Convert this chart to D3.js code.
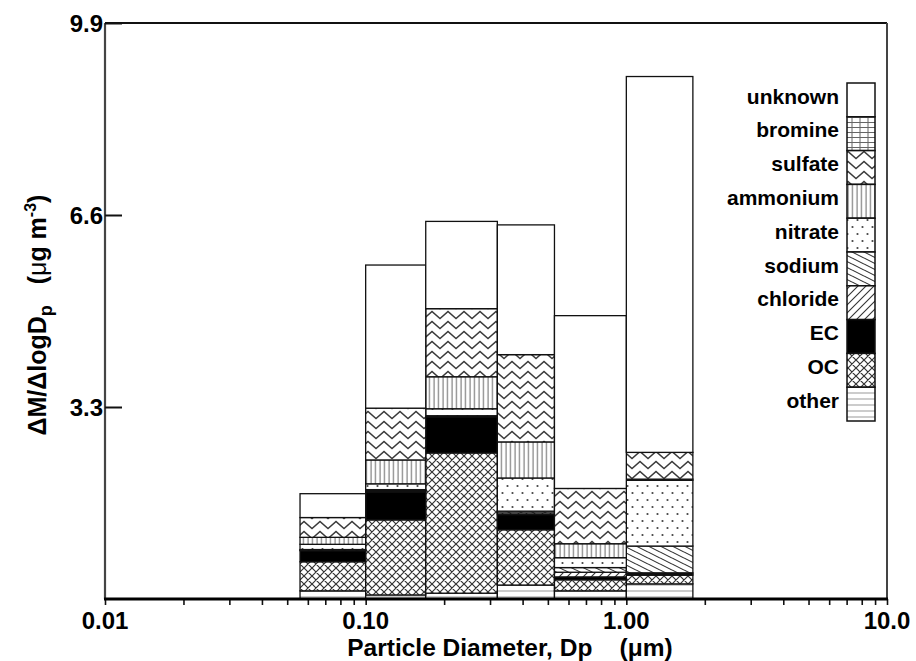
<!DOCTYPE html>
<html>
<head>
<meta charset="utf-8">
<script src="https://cdn.jsdelivr.net/npm/d3@7"></script>
<style>
  html, body { margin: 0; padding: 0; background: #fff; }
  svg { display: block; }
  text { font-family: "Liberation Sans", Arial, Helvetica, sans-serif; font-weight: bold; fill: #000; }
</style>
</head>
<body>
<svg id="chart" width="916" height="661"></svg>
<script>
// MOUDI stage cut points (µm) bounding each size bin
const binEdges = [0.056, 0.1, 0.17, 0.32, 0.53, 1.0, 1.8];

// Species, bottom of the stack first
const species = ["other", "OC", "EC", "chloride", "sodium", "nitrate", "ammonium", "sulfate", "bromine", "unknown"];

// ΔM/ΔlogDp (µg m-3) per bin, one array per species
const other    = [0.14, 0.07, 0.10, 0.24, 0.14, 0.26];
const OC       = [0.50, 1.29, 2.41, 0.95, 0.19, 0.15];
const EC       = [0.19, 0.48, 0.62, 0.26, 0.05, 0.02];
const chloride = [0.01, 0.02, 0.01, 0.03, 0.08, 0.02];
const sodium   = [0.01, 0.02, 0.01, 0.03, 0.08, 0.46];
const nitrate  = [0.09, 0.10, 0.12, 0.57, 0.17, 1.13];
const ammonium = [0.12, 0.41, 0.55, 0.62, 0.24, 0.02];
const sulfate  = [0.34, 0.89, 1.17, 1.50, 0.95, 0.46];
const bromine  = [0.00, 0.00, 0.00, 0.00, 0.00, 0.00];
const unknown  = [0.41, 2.46, 1.50, 2.23, 2.97, 6.46];

// Axis ticks
const yTicks = [3.3, 6.6, 9.9];
const xMajorTicks = [0.01, 0.1, 1, 10];
const xTickLabels = ["0.01", "0.10", "1.00", "10.0"];

const seriesValues = { other, OC, EC, chloride, sodium, nitrate, ammonium, sulfate, bromine, unknown };

const rows = binEdges.slice(0, -1).map((lo, i) => {
  const r = { lo: lo, hi: binEdges[i + 1] };
  species.forEach(s => { r[s] = seriesValues[s][i]; });
  return r;
});

const svg = d3.select("#chart");
const x = d3.scaleLog().domain([0.01, 10]).range([105, 887]);
const y = d3.scaleLinear().domain([0, 9.9]).range([599, 23]);

// ---- fill patterns -------------------------------------------------------
const defs = svg.append("defs");
function pattern(id, w, h) {
  return defs.append("pattern").attr("id", id)
    .attr("patternUnits", "userSpaceOnUse").attr("width", w).attr("height", h);
}
function bg(p, w, h) { p.append("rect").attr("width", w).attr("height", h).attr("fill", "#fff"); }

// other: sparse horizontal rules
let p = pattern("p-other", 8, 6); bg(p, 8, 6);
p.append("line").attr("x1", 0).attr("x2", 8).attr("y1", 3).attr("y2", 3).attr("stroke", "#9a9a9a").attr("stroke-width", 1);

// OC: diamond cross-hatch
p = pattern("p-OC", 8, 8); bg(p, 8, 8);
p.append("path").attr("d", "M0,0L8,8M8,0L0,8M-1,7L1,9M7,-1L9,1M-1,1L1,-1M7,9L9,7")
  .attr("stroke", "#333").attr("stroke-width", 1.2).attr("fill", "none");

// chloride: forward diagonals
p = pattern("p-chloride", 8, 8); bg(p, 8, 8);
p.append("path").attr("d", "M0,8L8,0M-2,2L2,-2M6,10L10,6")
  .attr("stroke", "#333").attr("stroke-width", 1.1).attr("fill", "none");

// sodium: shallow back diagonals
p = pattern("p-sodium", 12, 6); bg(p, 12, 6);
p.append("path").attr("d", "M-2,-1L14,7M-2,5L2,7M10,-1L14,1")
  .attr("stroke", "#333").attr("stroke-width", 1.1).attr("fill", "none");

// nitrate: staggered dots
p = pattern("p-nitrate", 10, 14); bg(p, 10, 14);
p.append("circle").attr("cx", 2.5).attr("cy", 3).attr("r", 1.1).attr("fill", "#444");
p.append("circle").attr("cx", 7.5).attr("cy", 10).attr("r", 1.1).attr("fill", "#444");

// ammonium: vertical rules
p = pattern("p-ammonium", 4.5, 10); bg(p, 4.5, 10);
p.append("line").attr("x1", 2).attr("x2", 2).attr("y1", 0).attr("y2", 10).attr("stroke", "#666").attr("stroke-width", 1);

// sulfate: zigzag rows
p = pattern("p-sulfate", 16, 10); bg(p, 16, 10);
p.append("path").attr("d", "M-4,5L0,1.5L8,8.5L16,1.5L20,5")
  .attr("stroke", "#3a3a3a").attr("stroke-width", 1.4).attr("fill", "none");

// bromine: grid
p = pattern("p-bromine", 8, 5); bg(p, 8, 5);
p.append("path").attr("d", "M0,2.5H8M4,0V5").attr("stroke", "#666").attr("stroke-width", 1).attr("fill", "none");

const fills = {
  other: "url(#p-other)", OC: "url(#p-OC)", EC: "#000", chloride: "url(#p-chloride)",
  sodium: "url(#p-sodium)", nitrate: "url(#p-nitrate)", ammonium: "url(#p-ammonium)",
  sulfate: "url(#p-sulfate)", bromine: "url(#p-bromine)", unknown: "#fff"
};

// ---- stacked bars ------------------------------------------------------
const stack = d3.stack().keys(species)(rows);

const layers = svg.append("g").selectAll("g").data(stack).join("g")
  .attr("fill", d => fills[d.key]);

layers.selectAll("rect").data(d => d).join("rect")
  .attr("x", d => x(d.data.lo))
  .attr("width", d => x(d.data.hi) - x(d.data.lo))
  .attr("y", d => y(d[1]))
  .attr("height", d => Math.max(0, y(d[0]) - y(d[1])))
  .attr("stroke", "#111")
  .attr("stroke-width", 1.3);

// ---- frame and axes ----------------------------------------------------
const frame = svg.append("g");
frame.append("line").attr("x1", x(0.01)).attr("x2", x(10)).attr("y1", y(9.9)).attr("y2", y(9.9))
  .attr("stroke", "#111").attr("stroke-width", 2);
frame.append("line").attr("x1", x(10)).attr("x2", x(10)).attr("y1", y(9.9)).attr("y2", y(0))
  .attr("stroke", "#444").attr("stroke-width", 2);
frame.append("line").attr("x1", x(0.01)).attr("x2", x(0.01)).attr("y1", y(9.9)).attr("y2", y(0))
  .attr("stroke", "#444").attr("stroke-width", 2.2);

// y axis: ticks point into the plot
const yAxis = d3.axisRight(y).tickValues(yTicks).tickSize(17).tickFormat("");
const gy = svg.append("g").attr("transform", `translate(${x(0.01)},0)`).call(yAxis);
gy.select(".domain").remove();
gy.selectAll(".tick line").attr("stroke", "#111").attr("stroke-width", 2);

svg.append("g").selectAll("text").data(yTicks).join("text")
  .attr("x", x(0.01) - 2).attr("y", d => y(d)).attr("dy", "0.36em")
  .attr("text-anchor", "end").attr("font-size", 24)
  .text(d => d.toFixed(1));

// x axis: log minor ticks below a heavy baseline
const xMinor = [];
for (let e = -2; e < 1; e++) for (let m = 1; m < 10; m++) xMinor.push(m * Math.pow(10, e));
xMinor.push(10);
const xAxis = d3.axisBottom(x).tickValues(xMinor).tickSize(6).tickFormat("");
const gx = svg.append("g").attr("transform", `translate(0,${y(0)})`).call(xAxis);
gx.select(".domain").remove();
gx.selectAll(".tick line").attr("stroke", "#111").attr("stroke-width", 1.6);
svg.append("line").attr("x1", x(0.01) - 1).attr("x2", x(10) + 1).attr("y1", y(0)).attr("y2", y(0))
  .attr("stroke", "#000").attr("stroke-width", 3);

svg.append("g").selectAll("text").data(xMajorTicks).join("text")
  .attr("x", d => x(d)).attr("y", 629)
  .attr("text-anchor", "middle").attr("font-size", 24)
  .text((d, i) => xTickLabels[i]);

// axis titles
svg.append("text").attr("x", 510).attr("y", 656).attr("text-anchor", "middle").attr("font-size", 24.5)
  .style("white-space", "pre")
  .text("Particle Diameter, Dp    (μm)");

const yt = svg.append("text").attr("transform", "translate(46,315) rotate(-90)")
  .attr("text-anchor", "middle").attr("font-size", 25)
  .style("white-space", "pre");
yt.append("tspan").text("ΔM/ΔlogD");
yt.append("tspan").attr("font-size", 18).attr("dy", 6).text("p");
yt.append("tspan").attr("dy", -6).text("   (");
yt.append("tspan").attr("font-weight", "normal").text("μ");
yt.append("tspan").text("g m");
yt.append("tspan").attr("font-size", 16).attr("dy", -10).text("-3");
yt.append("tspan").attr("dy", 10).text(")");

// ---- legend ------------------------------------------------------------
const legendOrder = species.slice().reverse();
const cellH = 33.8, cellTop = 83, cellX = 847, cellW = 28;
const lg = svg.append("g");
lg.selectAll("rect").data(legendOrder).join("rect")
  .attr("x", cellX).attr("y", (d, i) => cellTop + i * cellH)
  .attr("width", cellW).attr("height", cellH)
  .attr("fill", d => fills[d]).attr("stroke", "#111").attr("stroke-width", 1.5);
lg.selectAll("text").data(legendOrder).join("text")
  .attr("x", 839).attr("y", (d, i) => cellTop + i * cellH + 13).attr("dy", "0.36em")
  .attr("text-anchor", "end").attr("font-size", 21)
  .text(d => d);
</script>
</body>
</html>
